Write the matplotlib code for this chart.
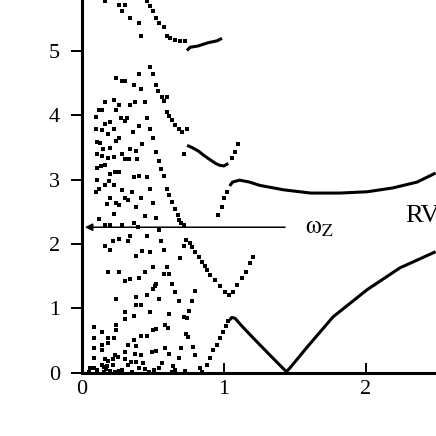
import matplotlib.pyplot as plt

plt.rcParams['font.family'] = ['Liberation Serif', 'DejaVu Serif']
plt.rcParams['mathtext.fontset'] = 'stix'

# scattered levels (small square dots)
dots_x = [0.16, 0.263, 0.30, 0.282, 0.34, 0.40, 0.418,
          0.399, 0.242, 0.282, 0.305, 0.364, 0.418,
          0.223, 0.164, 0.263, 0.34, 0.376, 0.446, 0.117, 0.141, 0.242, 0.099, 0.277, 0.317, 0.30,
          0.164, 0.20, 0.40, 0.099, 0.141, 0.223, 0.359, 0.183, 0.258, 0.239, 0.106, 0.129, 0.423,
          0.146, 0.20, 0.34, 0.38, 0.716, 0.106, 0.141, 0.183, 0.223, 0.282, 0.30, 0.329, 0.387,
          0.106, 0.136, 0.164, 0.235, 0.263, 0.20, 0.364, 0.399, 0.458, 0.106, 0.188, 0.16, 0.223,
          0.117, 0.481,
          0.099, 0.282, 0.352, 0.20, 0.305, 0.324, 0.418, 0.176, 0.239, 0.263, 0.498, 0.38, 0.223,
          0.441, 0.521, 0.122, 0.164, 0.20, 0.282, 0.364, 0.394, 0.54, 0.34, 0.458, 0.216, 0.263,
          0.324, 0.559, 0.164, 0.20, 0.716, 0.423, 0.481, 0.575, 0.38, 0.692, 0.498, 0.599, 0.183,
          0.263, 0.441, 0.575, 0.615, 0.30, 0.34, 0.399, 0.521, 0.634,
          0.498, 0.516, 0.657, 0.798, 0.239, 0.38, 0.458, 0.54, 0.681, 0.775, 0.38, 0.418, 0.751,
          0.30, 0.364, 0.481, 0.615, 0.716, 0.739, 0.30, 0.082, 0.239, 0.582, 0.606, 0.498, 0.521,
          0.141, 0.239, 0.418, 0.458, 0.732, 0.746, 0.082, 0.183, 0.223, 0.364, 0.324, 0.38, 0.141,
          0.183, 0.082, 0.582, 0.70, 0.779, 0.141, 0.30, 0.493, 0.521, 0.615, 0.235, 0.254, 0.376,
          0.418, 0.082, 0.681, 0.798, 0.16, 0.183, 0.216, 0.30, 0.347, 0.38, 0.427, 0.563, 0.141,
          0.153, 0.176, 0.216, 0.324, 0.638, 0.059, 0.082, 0.106, 0.169, 0.20, 0.258, 0.282, 0.40,
          0.446, 0.54, 0.505, 0.657, 0.728, 0.052, 0.106, 0.153, 0.20, 0.235, 0.27, 0.352, 0.47,
          0.634, 0.845]
dots_y = [5.77, 5.71, 5.71, 5.61, 5.51, 5.43, 5.23,
          4.64, 4.57, 4.52, 4.52, 4.47, 4.40,
          4.23, 4.20, 4.16, 4.16, 4.20, 4.20, 4.07, 4.07, 4.07, 3.97, 3.95, 3.95, 3.91,
          3.86, 3.89, 3.83, 3.78, 3.77, 3.78, 3.74, 3.70, 3.64, 3.60, 3.58, 3.56, 3.55,
          3.48, 3.49, 3.47, 3.44, 3.39, 3.39, 3.37, 3.34, 3.35, 3.39, 3.32, 3.32, 3.32,
          3.18, 3.21, 3.22, 3.12, 3.12, 3.09, 3.04, 3.05, 3.04, 2.99, 2.98, 2.92, 2.92,
          2.86, 2.85,
          2.80, 2.83, 2.80, 2.71, 2.72, 2.68, 2.72, 2.62, 2.64, 2.60, 2.63, 2.57, 2.47,
          2.44, 2.40, 2.39, 2.29, 2.30, 2.29, 2.32, 2.26, 2.22, 2.13, 2.13, 2.04, 2.08,
          2.05, 2.05, 1.97, 1.91, 1.97, 1.89, 1.88, 1.90, 1.81, 1.78, 1.65, 1.65, 1.56,
          1.57, 1.57, 1.53, 1.53, 1.43, 1.45, 1.47, 1.38, 1.38,
          1.31, 1.35, 1.25, 1.27, 1.15, 1.18, 1.21, 1.15, 1.12, 1.12, 1.06, 1.05, 0.96,
          0.94, 0.89, 0.94, 0.91, 0.87, 0.86, 0.84, 0.72, 0.74, 0.75, 0.70, 0.67, 0.68,
          0.64, 0.67, 0.58, 0.58, 0.60, 0.56, 0.55, 0.55, 0.55, 0.51, 0.44, 0.42, 0.43,
          0.47, 0.38, 0.38, 0.39, 0.41, 0.36, 0.33, 0.32, 0.34, 0.30, 0.28, 0.25, 0.30,
          0.28, 0.24, 0.23, 0.28, 0.22, 0.19, 0.22, 0.22, 0.17, 0.17, 0.15, 0.15, 0.12,
          0.10, 0.11, 0.12, 0.12, 0.11, 0.07, 0.07, 0.05, 0.06, 0.03, 0.03, 0.05, 0.08,
          0.06, 0.08, 0.05, 0.05, 0.03, 0.02, 0.02, 0.02, 0.02, 0.02, 0.02, 0.02, 0.02,
          0.02, 0.02]

# dotted branches
e_dot_x = [0.458, 0.481, 0.498, 0.521, 0.545, 0.575, 0.599, 0.622, 0.657, 0.692, 0.723]
e_dot_y = [5.77, 5.69, 5.62, 5.50, 5.43, 5.36, 5.23, 5.20, 5.16, 5.15, 5.14]
d_dot_x = [0.479, 0.50, 0.521, 0.535, 0.561, 0.596, 0.577, 0.599, 0.615, 0.634, 0.657, 0.681,
           0.704, 0.739, 1.054, 1.077, 1.096]
d_dot_y = [4.74, 4.64, 4.47, 4.37, 4.28, 4.28, 4.21, 4.04, 3.99, 3.92, 3.84, 3.79,
           3.74, 3.78, 3.33, 3.43, 3.55]
c_dot_x = [0.96, 0.984, 1.0, 1.023]
c_dot_y = [2.45, 2.58, 2.71, 2.81]
b_dot_x = [0.458, 0.481, 0.498, 0.521, 0.54, 0.559, 0.575, 0.599, 0.615, 0.634, 0.657, 0.676,
           0.685, 0.70, 0.716, 0.732, 0.763, 0.775, 0.798, 0.822, 0.845, 0.864, 0.88, 0.904,
           0.937, 0.972, 1.007, 1.035, 1.063, 1.092, 1.127, 1.155, 1.183, 1.204]
b_dot_y = [3.95, 3.78, 3.64, 3.42, 3.29, 3.16, 3.05, 2.86, 2.76, 2.65, 2.55, 2.45,
           2.37, 2.32, 2.29, 2.06, 2.02, 1.96, 1.88, 1.80, 1.72, 1.66, 1.60, 1.52,
           1.44, 1.35, 1.26, 1.21, 1.26, 1.36, 1.47, 1.57, 1.70, 1.80]
a_dot_x = [0.831, 0.878, 0.901, 0.925, 0.948, 0.972, 0.991, 1.014, 1.03]
a_dot_y = [0.07, 0.12, 0.24, 0.36, 0.44, 0.55, 0.64, 0.73, 0.81]

# solid branches
e_line_x = [0.739, 0.761, 0.817, 0.887, 0.951, 0.986]
e_line_y = [5.00, 5.05, 5.07, 5.12, 5.15, 5.19]
d_line_x = [0.74, 0.78, 0.82, 0.86, 0.90, 0.94, 0.97, 1.0, 1.03]
d_line_y = [3.53, 3.49, 3.44, 3.37, 3.31, 3.25, 3.22, 3.21, 3.25]
c_line_x = [1.04, 1.06, 1.11, 1.18, 1.25, 1.42, 1.61, 1.82, 2.01, 2.19, 2.36, 2.49]
c_line_y = [2.90, 2.96, 2.99, 2.96, 2.91, 2.84, 2.79, 2.79, 2.81, 2.87, 2.96, 3.10]
a_line_x = [1.04, 1.054, 1.077, 1.125, 1.207, 1.30, 1.394, 1.44, 1.465, 1.585, 1.768, 2.007,
            2.239, 2.49]
a_line_y = [0.82, 0.86, 0.85, 0.73, 0.54, 0.33, 0.12, 0.02, 0.08, 0.40, 0.87, 1.29,
            1.63, 1.88]

omega_z = 2.26

fig = plt.figure(figsize=(4.36, 4.36), dpi=100)
ax = fig.add_axes([0.1881, 0.1445, 0.8119, 0.8555])

dot = dict(marker='s', ms=2.6, mew=0, color='black', ls='none')
ax.plot(dots_x, dots_y, **dot)
for xs, ys in [(e_dot_x, e_dot_y), (d_dot_x, d_dot_y), (c_dot_x, c_dot_y),
               (b_dot_x, b_dot_y), (a_dot_x, a_dot_y)]:
    ax.plot(xs, ys, **dot)
for xs, ys in [(e_line_x, e_line_y), (d_line_x, d_line_y),
               (c_line_x, c_line_y), (a_line_x, a_line_y)]:
    ax.plot(xs, ys, color='black', lw=2.2, solid_capstyle='butt')

# arrow marking omega_z
ax.annotate('', xy=(0.02, omega_z), xytext=(1.43, omega_z),
            arrowprops=dict(arrowstyle='-|>', color='black', lw=1.1,
                            mutation_scale=11, shrinkA=0, shrinkB=0))
ax.text(1.57, 2.16, r'$\mathrm{\omega}_{\mathrm{Z}}$', fontsize=18, ha='left', va='baseline')
ax.text(2.275, 2.34, 'RV', fontsize=19, ha='left', va='baseline')

ax.set_xlim(0, 2.493)
ax.set_ylim(0, 5.783)
ax.set_xticks([0, 1, 2])
ax.set_yticks([0, 1, 2, 3, 4, 5])
ax.spines['top'].set_visible(False)
ax.spines['right'].set_visible(False)
for s in ['left', 'bottom']:
    ax.spines[s].set_linewidth(2.2)
ax.tick_params(axis='y', direction='out', length=8, width=1.4, pad=8, labelsize=16)
ax.tick_params(axis='x', direction='in', length=7, width=1.4, pad=5, labelsize=16)

fig.savefig('out.png', dpi=100)
